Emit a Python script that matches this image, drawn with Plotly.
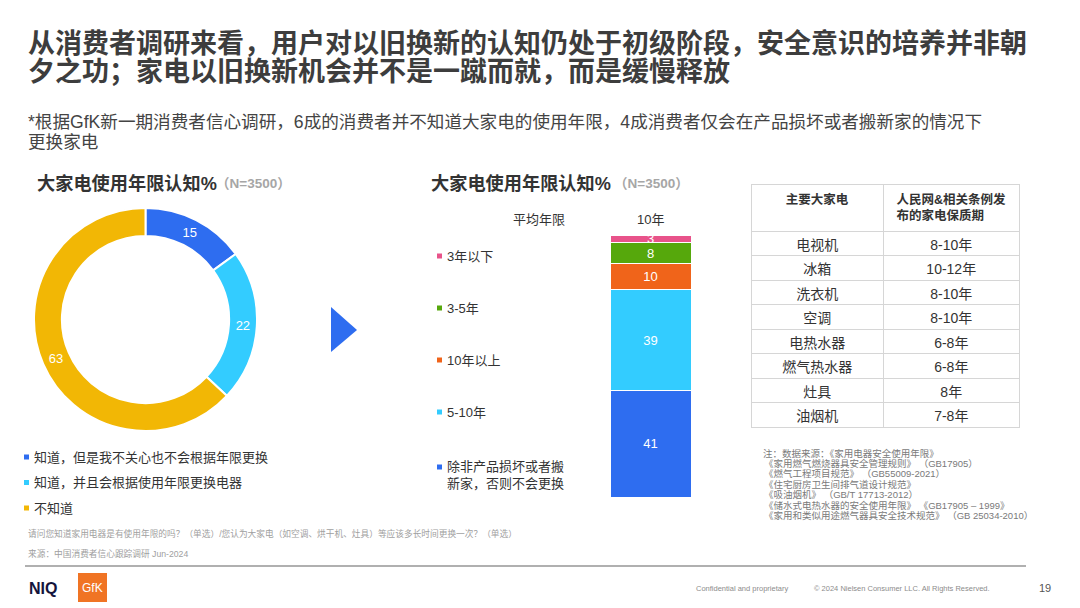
import plotly.graph_objects as go

W, H = 1080, 608
FONT = "Liberation Sans, Noto Sans CJK SC, sans-serif"

# ---------------- data ----------------
title_lines = ["从消费者调研来看，用户对以旧换新的认知仍处于初级阶段，安全意识的培养并非朝",
               "夕之功；家电以旧换新机会并不是一蹴而就，而是缓慢释放"]
subtitle_lines = ["*根据GfK新一期消费者信心调研，6成的消费者并不知道大家电的使用年限，4成消费者仅会在产品损坏或者搬新家的情况下",
                  "更换家电"]
chart_title = "大家电使用年限认知%"
chart_n = "（N=3500）"

pie_labels = ["知道，但是我不关心也不会根据年限更换", "知道，并且会根据使用年限更换电器", "不知道"]
pie_values = [15, 22, 63]
pie_colors = ["#2e6df0", "#33ccff", "#f2b705"]

bar_labels = ["除非产品损坏或者搬<br>新家，否则不会更换", "5-10年", "10年以上", "3-5年", "3年以下"]
bar_values = [41, 39, 10, 8, 3]
bar_colors = ["#2e6df0", "#33ccff", "#f0641a", "#56a80c", "#e8538a"]
avg_label = "平均年限"
avg_value = "10年"

table_header = ["主要大家电", "人民网&相关条例发<br>布的家电保质期"]
appliances = ["电视机", "冰箱", "洗衣机", "空调", "电热水器", "燃气热水器", "灶具", "油烟机"]
warranty = ["8-10年", "10-12年", "8-10年", "8-10年", "6-8年", "6-8年", "8年", "7-8年"]

notes = ["注：数据来源：《家用电器安全使用年限》",
         "《家用燃气燃烧器具安全管理规则》 （GB17905）",
         "《燃气工程项目规范》 （GB55009-2021）",
         "《住宅厨房卫生间排气道设计规范》",
         "《吸油烟机》 （GB/T 17713-2012）",
         "《储水式电热水器的安全使用年限》 《GB17905 – 1999》",
         "《家用和类似用途燃气器具安全技术规范》 （GB 25034-2010）"]
question_text = "请问您知道家用电器是有使用年限的吗？（单选）/您认为大家电（如空调、烘干机、灶具）等应该多长时间更换一次？（单选）"
source_text = "来源：中国消费者信心跟踪调研 Jun-2024"
footer_conf = "Confidential and proprietary"
footer_copy = "© 2024 Nielsen Consumer LLC. All Rights Reserved."
page_no = "19"


def px(x):
    return x / W


def py(y):
    return 1 - y / H


fig = go.Figure()

# ---------------- donut ----------------
fig.add_trace(go.Pie(
    values=pie_values, labels=pie_labels, text=[str(v) for v in pie_values],
    textinfo="text", textposition="inside", insidetextorientation="horizontal",
    textfont=dict(color="white", size=13, family=FONT),
    marker=dict(colors=pie_colors, line=dict(color="white", width=2)),
    hole=0.75, sort=False, direction="clockwise", rotation=0,
    domain=dict(x=[px(34), px(257)], y=[py(431), py(208)]),
    showlegend=False, hoverinfo="label+value",
))

# ---------------- stacked bar ----------------
for lab, val, col in zip(bar_labels, bar_values, bar_colors):
    fig.add_trace(go.Bar(
        x=[0], y=[val], name=lab, text=[str(val)], textposition="inside",
        insidetextanchor="middle", constraintext="none", textangle=0,
        textfont=dict(color="white", size=13, family=FONT),
        marker=dict(color=col, line=dict(color="white", width=1)),
        width=1, showlegend=False,
    ))

fig.update_layout(
    barmode="stack",
    xaxis=dict(domain=[px(610), px(691)], range=[-0.5, 0.5], visible=False, fixedrange=True),
    yaxis=dict(domain=[py(497), py(235)], range=[0, sum(bar_values)], visible=False, fixedrange=True),
)

# ---------------- table ----------------
fig.add_trace(go.Table(
    domain=dict(x=[px(751), px(1020)], y=[py(440), py(184)]),
    columnwidth=[133, 136],
    header=dict(values=["<b>%s</b>" % h for h in table_header], height=44,
                fill_color="white", line_color="#d6d6d6", align="center",
                font=dict(size=12.5, color="#333333", family=FONT)),
    cells=dict(values=[appliances, warranty], height=24.5,
               fill_color="white", line_color="#d6d6d6", align="center",
               font=dict(size=14, color="#333333", family=FONT)),
))

ann = []
shapes = []


def text(x, y, s, size, color="#333333", xanchor="left", bold=False, yanchor="middle"):
    ann.append(dict(x=px(x), y=py(y), xref="paper", yref="paper", showarrow=False,
                    text=("<b>%s</b>" % s) if bold else s, xanchor=xanchor, yanchor=yanchor,
                    align="left", font=dict(size=size, color=color, family=FONT)))


# titles
text(26, 44, title_lines[0], 27, "#3d3d3d", bold=True)
text(26, 72, title_lines[1], 27, "#3d3d3d", bold=True)
text(26, 122, subtitle_lines[0], 17.6, "#444444")
text(26, 142, subtitle_lines[1], 17.6, "#444444")

# chart titles
text(35, 183, chart_title, 18.2, "#333333", bold=True)
text(214, 184, chart_n, 13.5, "#a6a6a6", bold=True)
text(429, 183, chart_title, 18.2, "#333333", bold=True)
text(612, 184, chart_n, 13.5, "#a6a6a6", bold=True)

# avg row
text(539, 219, avg_label, 13, "#333333", xanchor="center")
text(650, 219, avg_value, 13, "#333333", xanchor="center")

# left legend
for i, (lab, col) in enumerate(zip(pie_labels, pie_colors)):
    yy = 457 + i * 25.5
    shapes.append(dict(type="rect", xref="paper", yref="paper", x0=px(24), x1=px(29),
                       y0=py(yy + 2.5), y1=py(yy - 2.5), fillcolor=col, line=dict(width=0)))
    text(32, yy, lab, 13, "#333333")

# middle legend (top of stack first)
leg_y = [256, 308, 360, 412, 475]
order = list(range(len(bar_labels)))[::-1]
for yy, idx in zip(leg_y, order):
    sq_y = yy if idx != 0 else 467
    shapes.append(dict(type="rect", xref="paper", yref="paper", x0=px(437), x1=px(442),
                       y0=py(sq_y + 2.5), y1=py(sq_y - 2.5), fillcolor=bar_colors[idx], line=dict(width=0)))
    text(445, yy, bar_labels[idx], 13, "#333333")

# triangle arrow
shapes.append(dict(type="path", xref="paper", yref="paper",
                   path="M %f %f L %f %f L %f %f Z" % (px(331), py(307), px(331), py(352), px(357), py(330)),
                   fillcolor="#2e6df0", line=dict(width=0)))

# notes
for i, n in enumerate(notes):
    text(761 if i == 0 else 762, 453 + i * 10.4, n, 9.5, "#7a7a7a")

# question and source
text(26, 533, question_text, 8.7, "#a0a0a0")
text(26, 553, source_text, 8.7, "#a0a0a0")

# separator line
shapes.append(dict(type="line", xref="paper", yref="paper", x0=px(25), x1=px(1026),
                   y0=py(566), y1=py(566), line=dict(color="#b0b0b0", width=2)))

# footer
text(27, 588, "NIQ", 16, "#14143c", bold=True)
shapes.append(dict(type="rect", xref="paper", yref="paper", x0=px(78), x1=px(107),
                   y0=py(602), y1=py(573), fillcolor="#f07424", line=dict(width=0)))
text(92.5, 588, "GfK", 12, "white", xanchor="center")
text(694, 588, footer_conf, 7.5, "#8c8c8c")
text(812, 588, footer_copy, 7.5, "#8c8c8c")
text(1053, 588, page_no, 11, "#555555", xanchor="right")

fig.update_layout(
    width=W, height=H, margin=dict(l=0, r=0, t=0, b=0),
    paper_bgcolor="white", plot_bgcolor="white",
    annotations=ann, shapes=shapes, font=dict(family=FONT),
)

fig.write_html("out.html", config={"displayModeBar": False})
